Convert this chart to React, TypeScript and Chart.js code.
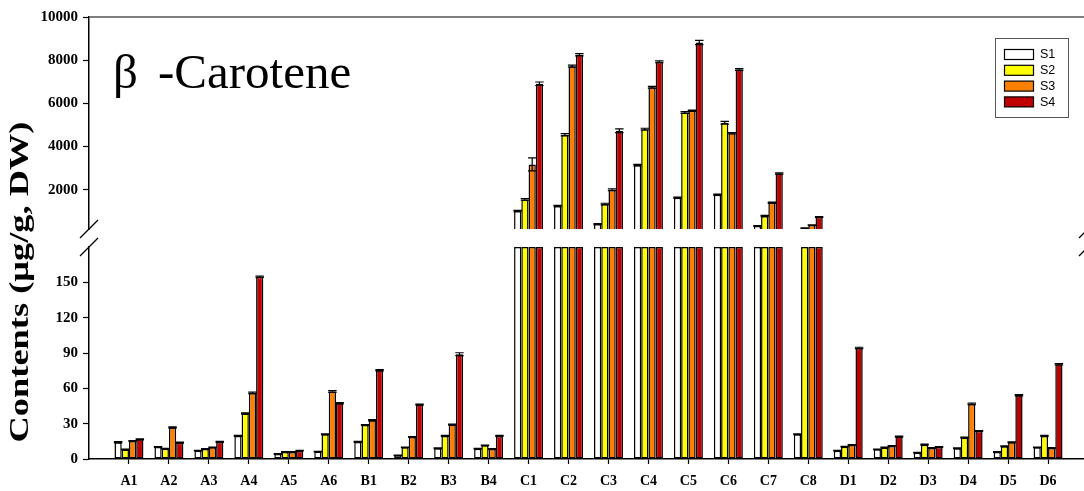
import React, { useEffect, useRef } from "react";
import { Chart, registerables } from "chart.js";

Chart.register(...registerables);

// Sample groups along the x axis
const categories = [
  "A1", "A2", "A3", "A4", "A5", "A6",
  "B1", "B2", "B3", "B4",
  "C1", "C2", "C3", "C4", "C5", "C6", "C7", "C8",
  "D1", "D2", "D3", "D4", "D5", "D6",
];

const seriesNames = ["S1", "S2", "S3", "S4"];
const seriesColors = ["#FFFFFF", "#FFFF00", "#FF8000", "#C00000"];

// β-carotene content (µg/g DW) per sample, one array per stage
const s1 = [14.2, 10.2, 7.1, 19.6, 4.3, 6.3, 14.5, 3.1, 9.1, 8.8, 1009, 1241, 407, 3139, 1630, 1769, 315, 21, 7.1, 8.2, 5.4, 9.1, 6.0, 9.9];
const s2 = [8.0, 8.8, 8.5, 38.6, 6.0, 21.0, 28.9, 9.9, 19.6, 11.6, 1551, 4546, 1333, 4806, 5579, 5102, 778, 222, 10.5, 9.7, 12.2, 18.2, 10.8, 19.6];
const s3 = [15.3, 26.7, 9.9, 56.1, 6.0, 57.3, 32.9, 18.7, 29.2, 8.5, 3172, 7723, 2000, 6750, 5658, 4621, 1398, 361, 11.9, 11.1, 9.4, 46.8, 14.2, 9.4];
const s4 = [16.7, 13.9, 14.5, 154.7, 7.1, 47.3, 75.4, 46.2, 89.0, 19.6, 6908, 8250, 4732, 7926, 8820, 7570, 2755, 732, 94.3, 19.0, 10.2, 23.8, 54.1, 80.5];

// Standard deviations
const e1 = [0.5, 0.4, 0.3, 0.4, 0.3, 0.3, 0.4, 0.3, 0.3, 0.3, 30, 30, 25, 35, 30, 30, 20, 0.4, 0.3, 0.3, 0.3, 0.3, 0.3, 0.3];
const e2 = [0.3, 0.3, 0.3, 0.5, 0.3, 0.4, 0.4, 0.3, 0.4, 0.3, 40, 50, 40, 40, 40, 60, 30, 10, 0.3, 0.3, 0.4, 0.4, 0.3, 0.5];
const e3 = [0.4, 0.5, 0.3, 0.6, 0.3, 0.8, 0.5, 0.4, 0.4, 0.3, 300, 45, 40, 40, 30, 30, 30, 10, 0.3, 0.3, 0.3, 0.6, 0.4, 0.3];
const e4 = [0.5, 0.4, 0.4, 0.6, 0.3, 0.5, 0.5, 0.5, 1.2, 0.4, 80, 50, 85, 45, 100, 40, 30, 20, 0.6, 0.4, 0.3, 0.4, 0.5, 0.6];

const seriesValues = [s1, s2, s3, s4];
const seriesErrors = [e1, e2, e3, e4];

// Broken value axis: 0–180 below the break, 180–10000 above it
const BREAK = 180;
const HIGH_MAX = 10000;
const lowTicks = [0, 30, 60, 90, 120, 150];
const highTicks = [2000, 4000, 6000, 8000, 10000];

const SERIF = "'Liberation Serif', 'Times New Roman', serif";
const SANS = "'Liberation Sans', Arial, sans-serif";

const CANVAS_W = 1100;
const CANVAS_H = 491;

type Panel = "high" | "low";

const errorBarPlugin = {
  id: "errorBars",
  afterDatasetsDraw(chart: any, _args: any, opts: any) {
    const { ctx } = chart;
    const yScale = chart.scales.y;
    ctx.save();
    ctx.strokeStyle = "#000";
    ctx.lineWidth = 1.2;
    chart.data.datasets.forEach((ds: any, di: number) => {
      const meta = chart.getDatasetMeta(di);
      meta.data.forEach((bar: any, i: number) => {
        const v = ds.values[i];
        const e = ds.errors[i];
        if (v == null) return;
        if (opts.panel === "high" ? v <= BREAK : v > BREAK) return;
        const x = bar.x;
        const half = bar.width / 2 + 0.6;
        const top = yScale.getPixelForValue(v + e);
        const bot = yScale.getPixelForValue(v - e);
        ctx.beginPath();
        ctx.moveTo(x, top);
        ctx.lineTo(x, bot);
        ctx.moveTo(x - half, top);
        ctx.lineTo(x + half, top);
        ctx.moveTo(x - half, bot);
        ctx.lineTo(x + half, bot);
        ctx.stroke();
      });
    });
    ctx.restore();
  },
};

const axisBreakPlugin = {
  id: "axisBreak",
  afterDraw(chart: any, _args: any, opts: any) {
    const { ctx, chartArea } = chart;
    const y = opts.edge === "bottom" ? chartArea.bottom : chartArea.top;
    ctx.save();
    ctx.strokeStyle = "#000";
    ctx.lineWidth = 1.2;
    [chartArea.left, chartArea.right].forEach((x: number) => {
      ctx.beginPath();
      ctx.moveTo(x - 9, y + 9);
      ctx.lineTo(x + 9, y - 9);
      ctx.stroke();
    });
    ctx.restore();
  },
};

const decorationsPlugin = {
  id: "decorations",
  afterDraw(chart: any, _args: any, opts: any) {
    const { ctx, chartArea } = chart;
    ctx.save();
    if (opts.panel === "high") {
      // top frame line
      ctx.strokeStyle = "#555";
      ctx.lineWidth = 1.5;
      ctx.beginPath();
      ctx.moveTo(chartArea.left, chartArea.top);
      ctx.lineTo(chartArea.right, chartArea.top);
      ctx.stroke();

      // compound name
      ctx.fillStyle = "#000";
      ctx.font = `49px ${SERIF}`;
      ctx.textAlign = "left";
      ctx.textBaseline = "alphabetic";
      ctx.fillText("β", chartArea.left + 24, 88);
      ctx.fillText("-Carotene", chartArea.left + 69, 88);

      // legend
      const bx = 995.5, by = 38.5, bw = 73, bh = 79;
      ctx.fillStyle = "#fff";
      ctx.fillRect(bx, by, bw, bh);
      ctx.strokeStyle = "#555";
      ctx.lineWidth = 1;
      ctx.strokeRect(bx, by, bw, bh);
      chart.data.datasets.forEach((ds: any, i: number) => {
        const cy = 54.5 + i * 15.8;
        ctx.fillStyle = ds.backgroundColor;
        ctx.fillRect(1004.5, cy - 5, 29, 10);
        ctx.strokeStyle = "#000";
        ctx.lineWidth = 1.2;
        ctx.strokeRect(1004.5, cy - 5, 29, 10);
        ctx.fillStyle = "#000";
        ctx.font = `12.5px ${SANS}`;
        ctx.textBaseline = "middle";
        ctx.fillText(ds.label, 1040, cy + 0.5);
      });
    } else {
      // value axis title, spanning both panels
      ctx.fillStyle = "#000";
      ctx.font = `bold 28px ${SERIF}`;
      ctx.textAlign = "center";
      ctx.textBaseline = "middle";
      ctx.translate(21, 282);
      ctx.rotate(-Math.PI / 2);
      ctx.scale(1.3, 1);
      ctx.fillText("Contents (μg/g, DW)", 0, 0);
    }
    ctx.restore();
  },
};

function makeConfig(panel: Panel): any {
  const isHigh = panel === "high";
  const tickFont = { family: SERIF, size: 15, weight: "bold" as const };
  const xFont = { family: SERIF, size: 14, weight: "bold" as const };
  return {
    type: "bar",
    data: {
      datasets: seriesValues.map((vals, k) => ({
        label: seriesNames[k],
        values: vals,
        errors: seriesErrors[k],
        data: vals.map((v, i) => ({
          x: i,
          y: isHigh ? (v > BREAK ? v : null) : Math.min(v, BREAK),
        })),
        backgroundColor: seriesColors[k],
        borderColor: "#000",
        borderWidth: 1.5,
        borderSkipped: false,
        categoryPercentage: 0.725,
        barPercentage: 1,
      })),
    },
    options: {
      animation: false,
      responsive: false,
      maintainAspectRatio: false,
      events: [],
      layout: {
        padding: isHigh
          ? { top: 17, bottom: CANVAS_H - 229, left: 0, right: 12 }
          : { top: 247, bottom: 0, left: 0, right: 12 },
      },
      plugins: {
        legend: { display: false },
        tooltip: { enabled: false },
        errorBars: { panel },
        axisBreak: { edge: isHigh ? "bottom" : "top" },
        decorations: { panel },
      },
      scales: {
        x: {
          type: "linear",
          min: -1,
          max: categories.length,
          offset: false,
          display: !isHigh,
          grid: {
            offset: false,
            drawOnChartArea: false,
            drawTicks: true,
            tickLength: 5,
            tickColor: "#000",
            tickWidth: 1.2,
          },
          border: { display: true, color: "#000", width: 1.5 },
          ticks: {
            autoSkip: false,
            maxRotation: 0,
            padding: 9,
            color: "#000",
            font: xFont,
            callback: (v: number) => categories[v] ?? "",
          },
          afterBuildTicks: (scale: any) => {
            scale.ticks = categories.map((_, i) => ({ value: i }));
          },
          afterFit: (scale: any) => {
            scale.height = isHigh ? 0 : 32;
          },
        },
        y: {
          type: "linear",
          min: isHigh ? BREAK : 0,
          max: isHigh ? HIGH_MAX : BREAK,
          grid: {
            drawOnChartArea: false,
            drawTicks: true,
            tickLength: 6,
            tickColor: "#000",
            tickWidth: 1.2,
          },
          border: { display: true, color: "#000", width: 1.5 },
          ticks: {
            padding: 5,
            color: "#000",
            font: tickFont,
            callback: (v: number) => String(v),
          },
          afterBuildTicks: (scale: any) => {
            scale.ticks = (isHigh ? highTicks : lowTicks).map((v) => ({ value: v }));
          },
          afterFit: (scale: any) => {
            scale.width = 89;
          },
        },
      },
    },
    plugins: [errorBarPlugin, axisBreakPlugin, decorationsPlugin],
  };
}

export default function App() {
  const highRef = useRef<HTMLCanvasElement | null>(null);
  const lowRef = useRef<HTMLCanvasElement | null>(null);

  useEffect(() => {
    const charts: Chart[] = [];
    if (lowRef.current) charts.push(new Chart(lowRef.current, makeConfig("low")));
    if (highRef.current) charts.push(new Chart(highRef.current, makeConfig("high")));
    return () => charts.forEach((c) => c.destroy());
  }, []);

  const canvasStyle: React.CSSProperties = {
    position: "absolute",
    left: 0,
    top: 0,
    width: CANVAS_W,
    height: CANVAS_H,
  };

  return (
    <div
      style={{
        position: "absolute",
        left: 0,
        top: 0,
        width: 1084,
        height: 491,
        overflow: "hidden",
        background: "#fff",
      }}
    >
      <canvas ref={lowRef} width={CANVAS_W} height={CANVAS_H} style={canvasStyle} />
      <canvas ref={highRef} width={CANVAS_W} height={CANVAS_H} style={canvasStyle} />
    </div>
  );
}
